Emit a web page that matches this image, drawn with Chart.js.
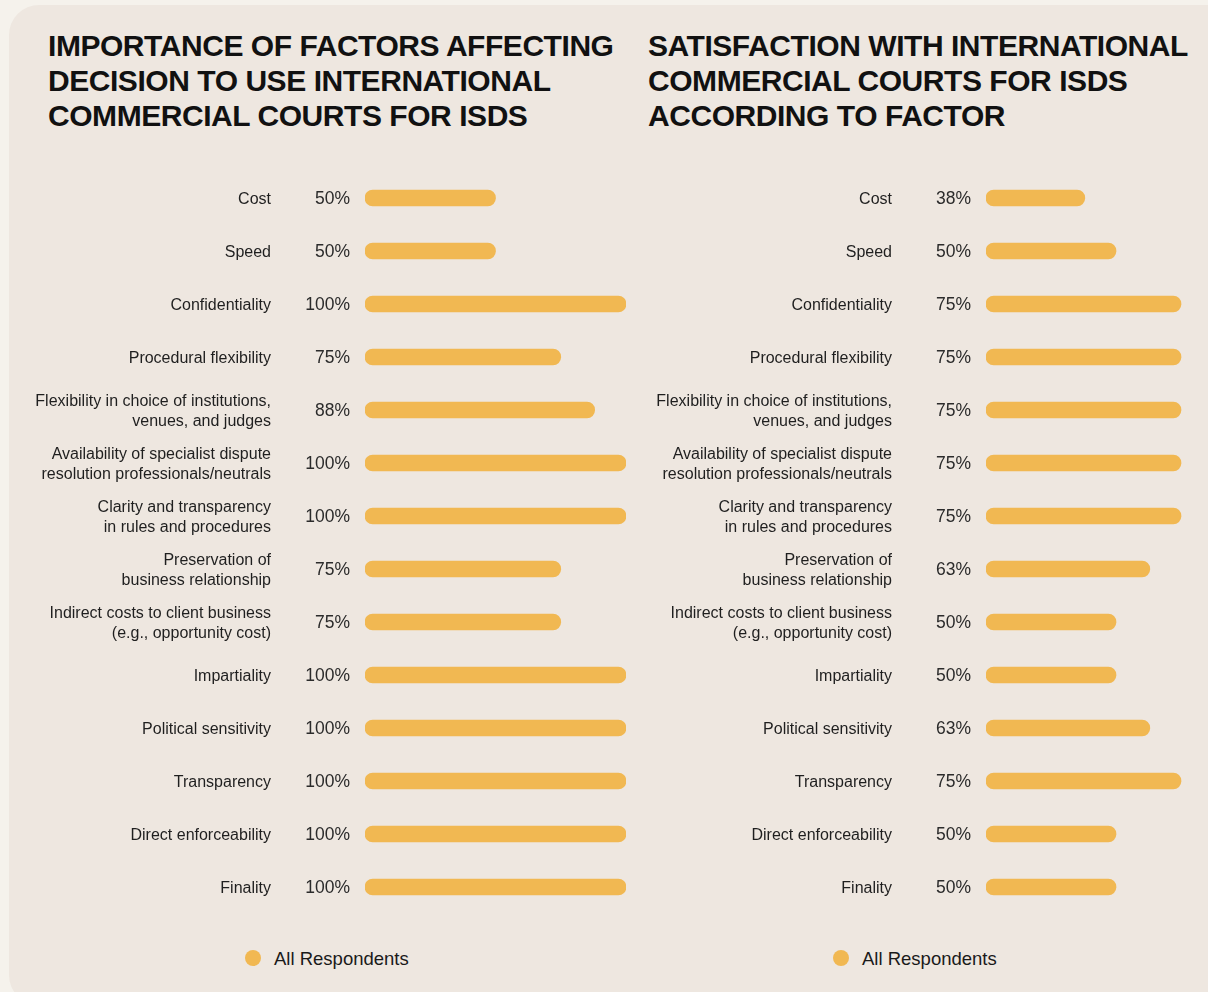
<!DOCTYPE html>
<html>
<head>
<meta charset="utf-8">
<script src="https://cdn.jsdelivr.net/npm/chart.js@4"></script>
<style>
  html, body { margin: 0; padding: 0; width: 1208px; height: 992px; overflow: hidden; background: #f5f2ec; }
  body { position: relative; font-family: "Liberation Sans", Arial, sans-serif; }
  #card { position: absolute; left: 9px; top: 5px; width: 1230px; height: 1000px; background: #eee7e0; border-radius: 30px; }
  .title { position: absolute; top: 28px; font-weight: bold; font-size: 30px; line-height: 35px; letter-spacing: -0.45px; color: #111; white-space: nowrap; }
  canvas { position: absolute; }
  .legend { position: absolute; top: 946px; height: 24px; font-size: 18.5px; color: #1a1a1a; line-height: 24px; white-space: nowrap; }
  .legend .dot { position: absolute; left: 0; top: 4px; width: 16px; height: 16px; border-radius: 50%; background: #f1b852; }
  .legend .txt { position: absolute; left: 29px; top: 1px; }
</style>
</head>
<body>
<div id="card"></div>
<div class="title" style="left:48px">IMPORTANCE OF FACTORS AFFECTING<br>DECISION TO USE INTERNATIONAL<br>COMMERCIAL COURTS FOR ISDS</div>
<div class="title" style="left:648px">SATISFACTION WITH INTERNATIONAL<br>COMMERCIAL COURTS FOR ISDS<br>ACCORDING TO FACTOR</div>
<canvas id="importance" width="654" height="790" style="left:0px;top:150px"></canvas>
<canvas id="satisfaction" width="628" height="790" style="left:622px;top:150px"></canvas>
<div class="legend" style="left:245px"><span class="dot"></span><span class="txt">All Respondents</span></div>
<div class="legend" style="left:833px"><span class="dot"></span><span class="txt">All Respondents</span></div>
<script>
// Factors (shared by both panels)
const factors = [
  "Cost",
  "Speed",
  "Confidentiality",
  "Procedural flexibility",
  ["Flexibility in choice of institutions,", "venues, and judges"],
  ["Availability of specialist dispute", "resolution professionals/neutrals"],
  ["Clarity and transparency", "in rules and procedures"],
  ["Preservation of", "business relationship"],
  ["Indirect costs to client business", "(e.g., opportunity cost)"],
  "Impartiality",
  "Political sensitivity",
  "Transparency",
  "Direct enforceability",
  "Finality"
];

// Share of respondents (%)
const importanceValues   = [50, 50, 100, 75, 88, 100, 100, 75, 75, 100, 100, 100, 100, 100];
const satisfactionValues = [38, 50, 75, 75, 75, 75, 75, 63, 50, 50, 63, 75, 50, 50];

const seriesName = "All Respondents";
const barColor = "#f1b852";

// Writes the value of each bar just left of where it starts
const valueLabels = {
  id: "valueLabels",
  afterDatasetsDraw(chart) {
    const ctx = chart.ctx;
    const meta = chart.getDatasetMeta(0);
    const data = chart.data.datasets[0].data;
    ctx.save();
    ctx.font = "17.5px 'Liberation Sans', Arial, sans-serif";
    ctx.fillStyle = "#2b2b2b";
    ctx.textAlign = "right";
    ctx.textBaseline = "middle";
    meta.data.forEach((bar, i) => {
      ctx.fillText(data[i] + "%", chart.chartArea.left - 15, bar.y + 1);
    });
    ctx.restore();
  }
};

function makeChart(id, values, axisWidth, padRight) {
  return new Chart(document.getElementById(id), {
    type: "bar",
    data: {
      labels: factors,
      datasets: [{
        label: seriesName,
        data: values,
        backgroundColor: barColor,
        barThickness: 16,
        borderRadius: 8,
        borderSkipped: false
      }]
    },
    options: {
      indexAxis: "y",
      responsive: false,
      animation: false,
      devicePixelRatio: 1,
      layout: { padding: { top: 21.5, bottom: 26.5, left: 0, right: padRight } },
      plugins: { legend: { display: false }, tooltip: { enabled: false } },
      scales: {
        x: { min: 0, max: 100, display: false },
        y: {
          afterFit(scale) { scale.width = axisWidth; },
          // hidden tick marks keep the labels 94px left of the bars
          grid: { display: false, drawTicks: true, tickLength: 94 },
          border: { display: false },
          ticks: {
            autoSkip: false,
            padding: 0,
            labelOffset: 2,
            color: "#1f1f1f",
            font: { family: "'Liberation Sans', Arial, sans-serif", size: 16, lineHeight: 1.25 }
          }
        }
      }
    },
    plugins: [valueLabels]
  });
}

makeChart("importance", importanceValues, 365, 28);
makeChart("satisfaction", satisfactionValues, 364, 4);
</script>
</body>
</html>
